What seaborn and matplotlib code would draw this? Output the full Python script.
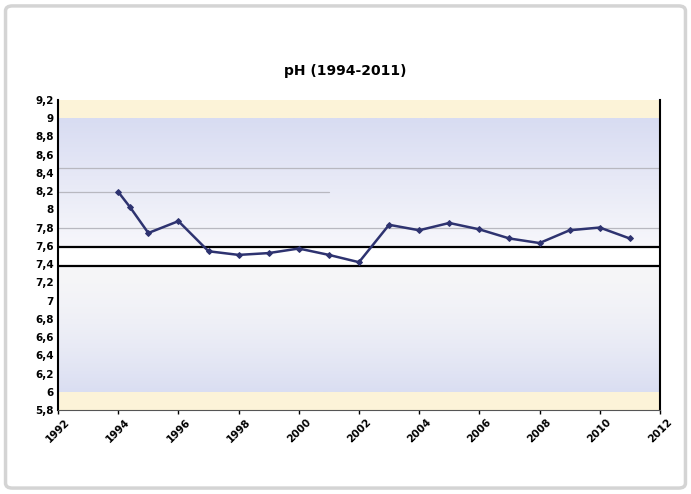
import numpy as np
import pandas as pd
import matplotlib.pyplot as plt
import seaborn as sns
from matplotlib.patches import FancyBboxPatch
from matplotlib.colors import LinearSegmentedColormap

# values
years = [1994, 1994.4, 1995, 1996, 1997, 1998, 1999, 2000, 2001, 2002,
         2003, 2004, 2005, 2006, 2007, 2008, 2009, 2010, 2011]
ph = [8.19, 8.02, 7.74, 7.87, 7.54, 7.50, 7.52, 7.57, 7.50, 7.42,
      7.83, 7.77, 7.85, 7.78, 7.68, 7.63, 7.77, 7.80, 7.68]
limit_lines = [7.59, 7.38]
grey_lines = [8.45, 7.79]
half_line = 8.19
y_ticks = [5.8, 6.0, 6.2, 6.4, 6.6, 6.8, 7.0, 7.2, 7.4, 7.6, 7.8,
           8.0, 8.2, 8.4, 8.6, 8.8, 9.0, 9.2]
x_ticks = list(range(1992, 2013, 2))

df = pd.DataFrame({"year": years, "ph": ph})

sns.set_style("white")
plt.rcParams['font.family'] = ['DejaVu Sans']
plt.rcParams['text.color'] = 'black'
plt.rcParams['xtick.color'] = 'black'
plt.rcParams['ytick.color'] = 'black'

fig = plt.figure(figsize=(6.91, 4.94), dpi=100)
fig.patch.set_facecolor("white")
# outer frame of the chart
fig.patches.append(FancyBboxPatch((0.008, 0.012), 0.984, 0.976,
                                  boxstyle="round,pad=0,rounding_size=0.01",
                                  transform=fig.transFigure, fill=False,
                                  edgecolor="#d4d4d4", linewidth=2.5))

ax = fig.add_axes([0.084, 0.170, 0.871, 0.628])
ax.set_xlim(1992, 2012)
ax.set_ylim(5.8, 9.2)

# background bands
ax.axhspan(9.0, 9.2, color="#fcf3d8", zorder=0)
ax.axhspan(5.8, 6.0, color="#fcf3d8", zorder=0)
grad = np.linspace(0, 1, 100).reshape(-1, 1)
ax.imshow(grad, extent=[1992, 2012, 7.59, 9.0], aspect="auto", origin="lower",
          cmap=LinearSegmentedColormap.from_list("t", ["#f7f7fb", "#d8dcf2"]),
          zorder=0)
ax.imshow(grad ** 1.6, extent=[1992, 2012, 6.0, 7.38], aspect="auto",
          origin="upper",
          cmap=LinearSegmentedColormap.from_list("b", ["#f6f6f8", "#dadef2"]),
          zorder=0)
ax.axhspan(7.38, 7.59, color="white", zorder=0)

for g in grey_lines:
    ax.axhline(g, color="#b8b8c0", linewidth=0.9, zorder=1)
ax.plot([1992, 2001], [half_line, half_line], color="#b8b8c0", linewidth=0.9, zorder=1)
for l in limit_lines:
    ax.axhline(l, color="black", linewidth=1.6, zorder=2)

sns.lineplot(data=df, x="year", y="ph", ax=ax, color="#2e3370", linewidth=1.8,
             marker="D", markersize=3, markeredgecolor="#2e3370", zorder=3)

ax.set_xticks(x_ticks)
ax.set_xticklabels([str(x) for x in x_ticks], rotation=45, fontsize=7.5,
                   fontweight="bold")
ax.set_yticks(y_ticks)
ax.set_yticklabels([f"{v:g}".replace(".", ",") for v in y_ticks], fontsize=7.5,
                   fontweight="bold")
ax.tick_params(axis="x", length=3, width=1, pad=2, direction="out", bottom=True)
ax.tick_params(axis="y", length=0, pad=3)
ax.set_xlabel("")
ax.set_ylabel("")

for side in ["left", "right"]:
    ax.spines[side].set_color("black")
    ax.spines[side].set_linewidth(1.5)
ax.spines["top"].set_visible(False)
ax.spines["bottom"].set_color("#555555")
ax.spines["bottom"].set_linewidth(0.8)

fig.text(0.5, 0.857, "pH (1994-2011)", ha="center", va="center",
         fontsize=10, fontweight="bold", color="black")

fig.savefig("out.png", dpi=100)
